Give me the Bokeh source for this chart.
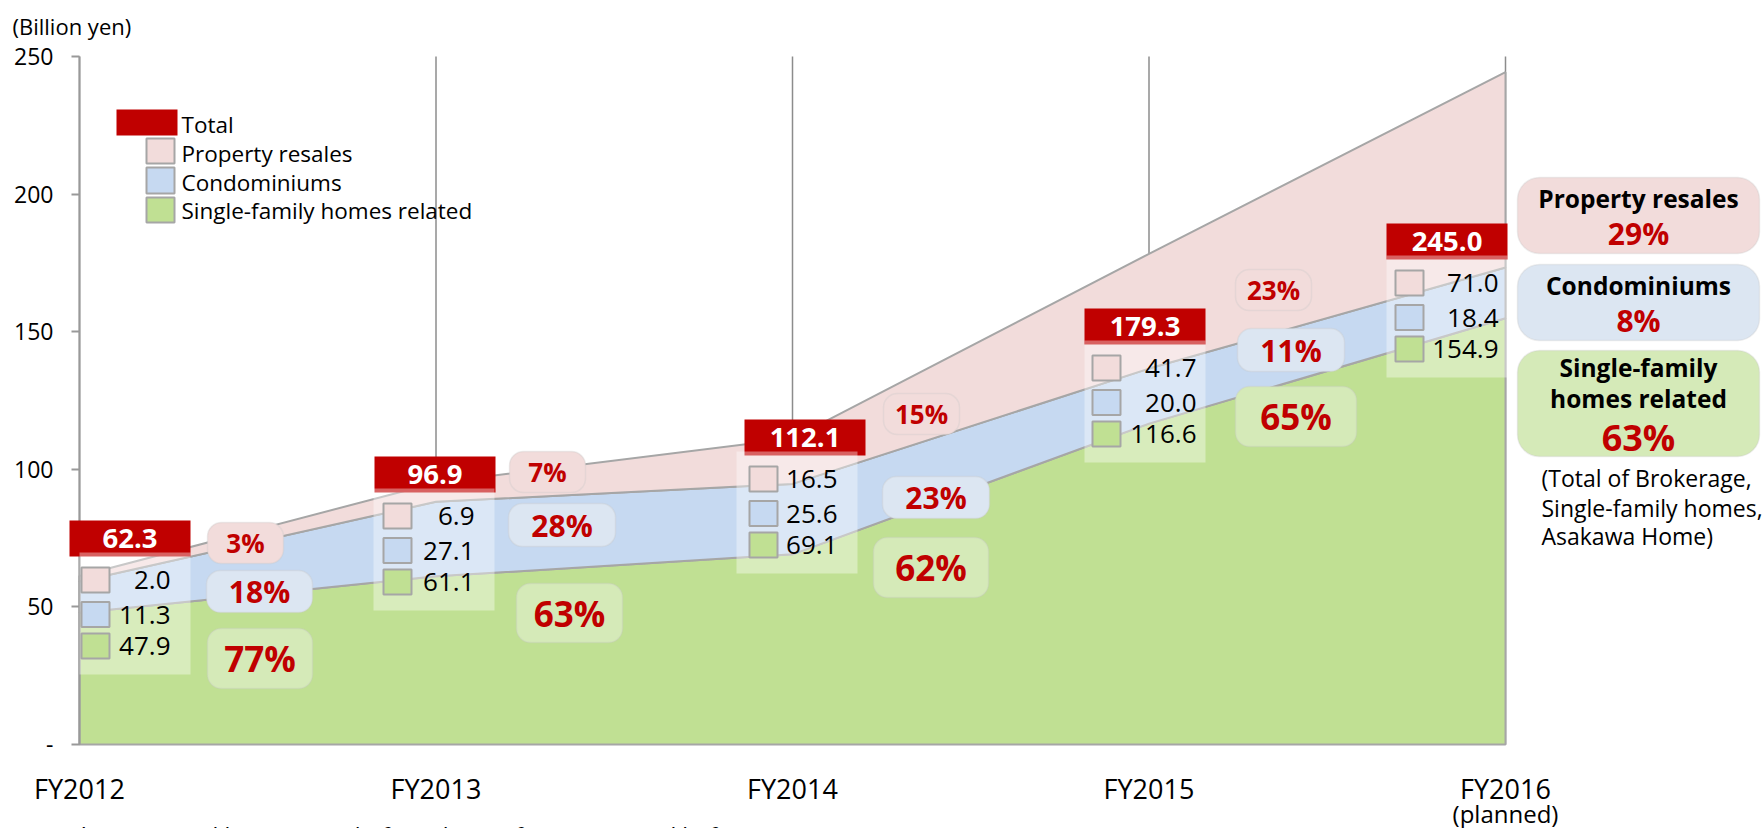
import numpy as np
from bokeh.plotting import figure
from bokeh.models import FixedTicker, BoxAnnotation
from bokeh.core.properties import value
from bokeh.embed import file_html
from bokeh.resources import INLINE

# ---------------- data ----------------
years = ["FY2012", "FY2013", "FY2014", "FY2015", "FY2016"]
totals = [62.3, 96.9, 112.1, 179.3, 245.0]
single_family = [47.9, 61.1, 69.1, 116.6, 154.9]
condominiums = [11.3, 27.1, 25.6, 20.0, 18.4]
property_resales = [2.0, 6.9, 16.5, 41.7, 71.0]
share_resales = [3, 7, 15, 23]
share_condo = [18, 28, 23, 11]
share_single = [77, 63, 62, 65]
plan_share = [29, 8, 63]
plan_names = ["Property resales", "Condominiums", "Single-family\nhomes related"]
legend_names = ["Total", "Property resales", "Condominiums", "Single-family homes related"]
y_ticks = [0, 50, 100, 150, 200, 250]
note_lines = ["(Total of Brokerage,", "Single-family homes,", "Asakawa Home)"]
unit_label = "(Billion yen)"
plan_label = "(planned)"
footnote = "* Aggregated by segment before change for FY2014 and before"

# ---------------- styles ----------------
RED = "#C00000"
PINK = "#F2DCDB"
BLUE = "#C6D9F1"
GREEN = "#C0E093"
PINK_BOX = "#F2DCDB"
BLUE_BOX = "#DCE6F2"
GREEN_BOX = "#D5EAB8"
GRAY = "#A6A6A6"
FONT = "Open Sans"

W, H = 1762, 828
PX0, PXS = 79.0, 356.5     # canvas x of first year, px per year
PY0, PYS = 744.0, 2.752    # canvas y of zero, px per billion yen


def X(px):
    return (px - PX0) / PXS


def Y(py):
    return (PY0 - py) / PYS


p = figure(width=W, height=H, x_range=(X(0), X(W)), y_range=(Y(H), Y(0)),
           output_backend="svg", toolbar_location=None,
           min_border_left=0, min_border_right=0, min_border_top=0, min_border_bottom=0)
p.grid.visible = False
p.outline_line_color = None
p.background_fill_color = "white"

xs = np.arange(len(years))

# y axis (fixed at the first category)
p.yaxis.fixed_location = 0
p.yaxis.ticker = FixedTicker(ticks=y_ticks)
p.yaxis.major_label_overrides = {0: "-"}
p.yaxis.bounds = (0, y_ticks[-1])
p.yaxis.axis_line_color = "#999999"
p.yaxis.axis_line_width = 2
p.yaxis.major_tick_line_color = "#999999"
p.yaxis.major_tick_line_width = 2
p.yaxis.major_tick_out = 8
p.yaxis.major_tick_in = 0
p.yaxis.minor_tick_line_color = None
p.yaxis.major_label_standoff = 18
p.yaxis.major_label_text_font = FONT
p.yaxis.major_label_text_font_size = "23px"
p.yaxis.major_label_text_color = "#000000"

# x axis (fixed at zero)
p.xaxis.fixed_location = 0
p.xaxis.ticker = FixedTicker(ticks=list(xs))
p.xaxis.major_label_overrides = {int(i): y for i, y in zip(xs, years)}
p.xaxis.bounds = (0, len(years) - 1)
p.xaxis.axis_line_color = None
p.xaxis.major_tick_line_color = None
p.xaxis.minor_tick_line_color = None
p.xaxis.major_label_standoff = 19
p.xaxis.major_label_text_font = FONT
p.xaxis.major_label_text_font_size = "27px"
p.xaxis.major_label_text_color = "#000000"

# vertical category lines
p.segment(x0=xs, y0=0, x1=xs, y1=y_ticks[-1], line_color="#8C8C8C", line_width=1.5)

# stacked areas
c1 = np.array(single_family)
c2 = c1 + np.array(condominiums)
c3 = c2 + np.array(property_resales)
for lo, hi, col in [(np.zeros(len(xs)), c1, GREEN), (c1, c2, BLUE), (c2, c3, PINK)]:
    p.patch(np.concatenate([xs, xs[::-1]]), np.concatenate([hi, lo[::-1]]),
            fill_color=col, line_color=GRAY, line_width=2)

# ---------------- data label boxes per year ----------------
red_left = [69, 374, 744, 1084, 1386]
red_top = [520, 456, 419, 308, 223]
white_left = [79, 373, 736, 1084, 1386]
white_right = [190, 494, 857, 1205, 1507]
swatch_left = [81, 383, 749, 1092, 1395]
value_right = [170, 474, 837, 1196, 1498]
sw_offsets = [0, 34.5, 66]

for i in range(len(years)):
    rt = red_top[i]
    p.add_layout(BoxAnnotation(left=X(red_left[i]), right=X(red_left[i] + 121),
                               top=Y(rt), bottom=Y(rt + 36),
                               fill_color=RED, fill_alpha=1, line_color=None))
for i in range(len(years)):
    wt = red_top[i] + 32
    p.add_layout(BoxAnnotation(left=X(white_left[i]), right=X(white_right[i]),
                               top=Y(wt), bottom=Y(wt + 122),
                               fill_color="white", fill_alpha=0.38, line_color=None))

tot_x, tot_y, tot_t = [], [], []
sq_l, sq_r, sq_t, sq_b, sq_c = [], [], [], [], []
val_x, val_y, val_t = [], [], []
for i in range(len(years)):
    tot_x.append(X(red_left[i] + 60.5))
    tot_y.append(Y(red_top[i] + 18))
    tot_t.append(f"{totals[i]:.1f}")
    base = red_top[i] + 47
    for off, v, col in zip(sw_offsets, [property_resales[i], condominiums[i], single_family[i]],
                           [PINK, BLUE, GREEN]):
        sq_l.append(X(swatch_left[i]))
        sq_r.append(X(swatch_left[i] + 28))
        sq_t.append(Y(base + off))
        sq_b.append(Y(base + off + 25))
        sq_c.append(col)
        val_x.append(X(value_right[i]))
        val_y.append(Y(base + off + 12.5))
        val_t.append(f"{v:.1f}")

p.quad(left=sq_l, right=sq_r, top=sq_t, bottom=sq_b, fill_color=sq_c,
       line_color=GRAY, line_width=2, level="overlay")
p.text(x=tot_x, y=tot_y, text=tot_t, text_align="center", text_baseline="middle",
       text_font=value(FONT), text_font_style="bold", text_font_size="27.5px",
       text_color="white", level="overlay")
p.text(x=val_x, y=val_y, text=val_t, text_align="right", text_baseline="middle",
       text_font=value(FONT), text_font_size="26px", text_color="#000000", level="overlay")

# ---------------- percentage boxes between years ----------------
pct_boxes_px = [
    [(207, 283, 522, 563), (206, 312, 570, 612), (207, 312, 628, 688)],
    [(509, 585, 451, 492), (508, 615, 503, 546), (516, 622, 583, 642)],
    [(883, 959, 393, 434), (882, 989, 476, 518), (873, 988, 537, 597)],
    [(1235, 1311, 269, 310), (1237, 1344, 328, 371), (1235, 1356, 386, 446)],
]
pct_fill = [PINK_BOX, BLUE_BOX, GREEN_BOX]
pct_size = ["26px", "30px", "35px"]
for k in range(len(share_resales)):
    shares = [share_resales[k], share_condo[k], share_single[k]]
    for j, (l, r, t, b) in enumerate(pct_boxes_px[k]):
        p.add_layout(BoxAnnotation(left=X(l), right=X(r), top=Y(t), bottom=Y(b),
                                   fill_color=pct_fill[j], fill_alpha=1,
                                   line_color="#C8C8C8", line_width=1.5, border_radius=14))
        p.text(x=[X((l + r) / 2)], y=[Y((t + b) / 2)], text=[f"{shares[j]}%"],
               text_align="center", text_baseline="middle", text_font=value(FONT),
               text_font_style="bold", text_font_size=pct_size[j], text_color=RED,
               level="overlay")

# ---------------- right side plan boxes ----------------
right_boxes_px = [(1517, 1759, 177, 253), (1517, 1759, 264, 340), (1517, 1759, 350, 456)]
name_y_px = [[198], [285], [367, 398]]
share_y_px = [233, 320, 437]
share_size = ["30px", "30px", "36px"]
for j, (l, r, t, b) in enumerate(right_boxes_px):
    p.add_layout(BoxAnnotation(left=X(l), right=X(r), top=Y(t), bottom=Y(b),
                               fill_color=pct_fill[j], fill_alpha=1,
                               line_color="#C8C8C8", line_width=1.5, border_radius=22))
    lines = plan_names[j].split("\n")
    p.text(x=[X(1638)] * len(lines), y=[Y(v) for v in name_y_px[j]], text=lines,
           text_align="center", text_baseline="middle", text_font=value(FONT),
           text_font_style="bold", text_font_size="24.5px", text_color="#000000",
           level="overlay")
    p.text(x=[X(1638)], y=[Y(share_y_px[j])], text=[f"{plan_share[j]}%"],
           text_align="center", text_baseline="middle", text_font=value(FONT),
           text_font_style="bold", text_font_size=share_size[j], text_color=RED,
           level="overlay")

p.text(x=[X(1541)] * 3, y=[Y(477), Y(507), Y(535)], text=note_lines,
       text_align="left", text_baseline="middle", text_font=value(FONT),
       text_font_size="23px", text_color="#000000", level="overlay")

# ---------------- legend ----------------
p.quad(left=[X(116)], right=[X(177)], top=[Y(109)], bottom=[Y(135)],
       fill_color=RED, line_color=None, level="overlay")
p.quad(left=[X(146)] * 3, right=[X(174)] * 3, top=[Y(138), Y(167), Y(197)],
       bottom=[Y(163), Y(193), Y(222)], fill_color=[PINK, BLUE, GREEN],
       line_color=GRAY, line_width=2, level="overlay")
p.text(x=[X(181)] * 4, y=[Y(124), Y(153), Y(182), Y(210)], text=legend_names,
       text_align="left", text_baseline="middle", text_font=value(FONT),
       text_font_size="22.5px", text_color="#000000", level="overlay")

# ---------------- extra texts ----------------
p.text(x=[X(12)], y=[Y(25)], text=[unit_label], text_align="left", text_baseline="middle",
       text_font=value(FONT), text_font_size="22px", text_color="#000000", level="overlay")
p.text(x=[len(years) - 1], y=[Y(813)], text=[plan_label], text_align="center",
       text_baseline="middle", text_font=value(FONT), text_font_size="24px",
       text_color="#000000", level="overlay")
p.text(x=[X(77)], y=[Y(835)], text=[footnote], text_align="left", text_baseline="middle",
       text_font=value(FONT), text_font_size="23px", text_color="#000000", level="overlay")

open("out.html", "w").write(file_html(p, INLINE))
